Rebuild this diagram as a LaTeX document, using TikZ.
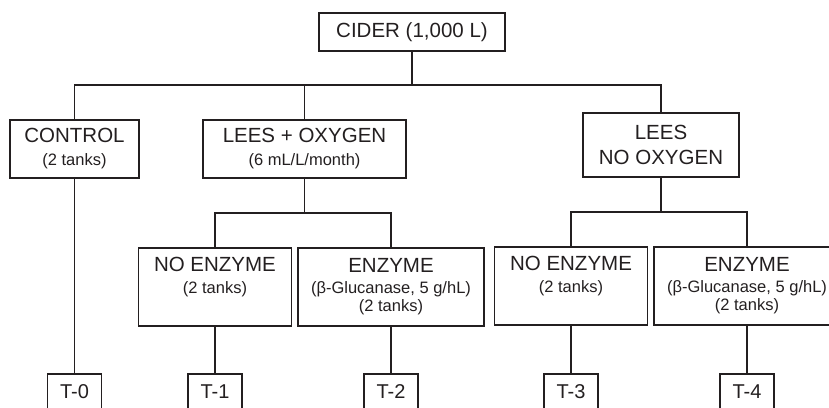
\documentclass[tikz,border=0pt]{standalone}
\usepackage{fontspec}
\setmainfont{Liberation Sans}
\definecolor{ink}{HTML}{231F20}
\newcommand\mf{\fontsize{20.5}{24}\selectfont}
\newcommand\smf{\fontsize{16.5}{20}\selectfont}
\begin{document}
\begin{tikzpicture}[x=1pt,y=-1pt,
  box/.style={draw=ink, line width=1.5pt, align=center, font=\mf, text=ink, inner sep=0pt},
  wire/.style={draw=ink, line width=1.9pt},
  tbox/.style={box, minimum width=54pt, minimum height=36pt, font=\fontsize{20}{24}\selectfont}]
\clip (0,0) rectangle (829,407);
% main boxes
\node[box, minimum width=186pt, minimum height=38pt] (cider) at (412,32) {CIDER (1,000 L)};
\node[box, minimum width=129pt, minimum height=58pt] (control) at (74.5,149) {CONTROL\\[-1pt]{\smf (2 tanks)}};
\node[box, minimum width=203pt, minimum height=58pt] (leesox) at (304.5,149) {LEES + OXYGEN\\[-1pt]{\smf (6 mL/L/month)}};
\node[box, minimum width=156pt, minimum height=64pt] (leesno) at (661,145) {LEES\\[1pt]NO OXYGEN};
% second level
\node[box, minimum width=153pt, minimum height=78pt] (noenz1) at (215,287) {NO ENZYME\\[-2pt]{\smf (2 tanks)}\\[-6pt]{\smf\strut}};
\node[box, minimum width=186pt, minimum height=78pt] (enz1) at (391,287) {ENZYME\\[-3pt]{\smf (β-Glucanase, 5 g/hL)}\\[-6pt]{\smf (2 tanks)}};
\node[box, minimum width=153pt, minimum height=78pt] (noenz2) at (571,286) {NO ENZYME\\[-2pt]{\smf (2 tanks)}\\[-6pt]{\smf\strut}};
\node[box, minimum width=186pt, minimum height=78pt] (enz2) at (747,286) {ENZYME\\[-3pt]{\smf (β-Glucanase, 5 g/hL)}\\[-6pt]{\smf (2 tanks)}};
% treatments
\node[tbox] (t0) at (74.5,392) {T-0};
\node[tbox] (t1) at (215,392) {T-1};
\node[tbox] (t2) at (391,392) {T-2};
\node[tbox] (t3) at (571,392) {T-3};
\node[tbox] (t4) at (747,392) {T-4};
% connectors
\coordinate (j0) at (412,85);
\draw[wire] (cider.south) -- (j0);
\draw[wire] (control.north) |- (j0);
\draw[wire] (leesno.north) |- (j0);
\draw[wire] (leesox.north) -- (leesox.north |- j0);
\coordinate (j1) at (304.5,213);
\draw[wire] (leesox.south) -- (j1);
\draw[wire] (noenz1.north) |- (j1) -| (enz1.north);
\coordinate (j2) at (661,212);
\draw[wire] (leesno.south) -- (j2);
\draw[wire] (noenz2.north) |- (j2) -| (enz2.north);
\draw[wire] (control.south) -- (t0.north);
\draw[wire] (noenz1.south) -- (t1.north);
\draw[wire] (enz1.south) -- (t2.north);
\draw[wire] (noenz2.south) -- (t3.north);
\draw[wire] (enz2.south) -- (t4.north);
\end{tikzpicture}
\end{document}
